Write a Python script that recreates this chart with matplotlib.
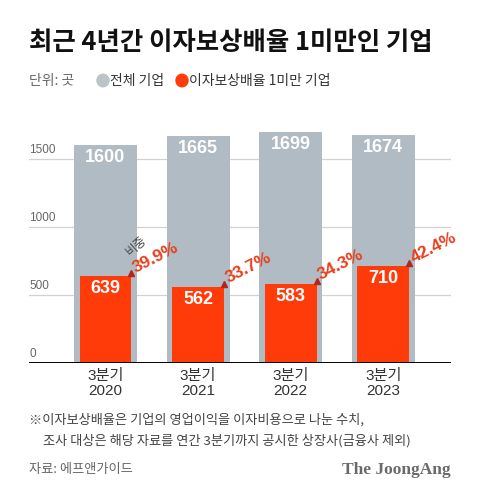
import matplotlib
matplotlib.use("Agg")
import matplotlib.pyplot as plt
import matplotlib.transforms as mtransforms

plt.rcParams["font.family"] = ["Noto Sans CJK KR", "DejaVu Sans"]
NUM_FONT = ["Liberation Sans", "Noto Sans CJK KR"]

# data
quarters = ["3분기\n2020", "3분기\n2021", "3분기\n2022", "3분기\n2023"]
total_firms = [1600, 1665, 1699, 1674]
low_icr_firms = [639, 562, 583, 710]
share_labels = ["39.9%", "33.7%", "34.3%", "42.4%"]
y_ticks = [0, 500, 1000, 1500]

GRAY = "#b0bbc3"
RED = "#ff3b0a"
PCT_RED = "#e8401c"

fig = plt.figure(figsize=(4.8, 5.01), dpi=100)
ax = fig.add_axes([29 / 480, 138 / 501, 422 / 480, 245 / 501])

x = list(range(len(quarters)))
gray_w, red_w = 0.68, 0.56

for t in y_ticks[1:]:
    ax.axhline(t, color="#d2d2d2", lw=0.9, zorder=0)
ax.axhline(0, color="black", lw=1.4, zorder=5)

ax.bar(x, total_firms, width=gray_w, color=GRAY, zorder=2)
ax.bar(x, low_icr_firms, width=red_w, color=RED, zorder=3)

for i in x:
    ax.text(i, total_firms[i] - 92, str(total_firms[i]), ha="center", va="center",
            color="white", fontsize=13, fontweight="bold", family=NUM_FONT, zorder=4)
    ax.text(i, low_icr_firms[i] - 92, str(low_icr_firms[i]), ha="center", va="center",
            color="white", fontsize=13, fontweight="bold", family=NUM_FONT, zorder=4)
    xr = i + red_w / 2
    ax.plot(xr, low_icr_firms[i] + 22, marker="^", ms=5, color="#b3261e", zorder=6,
            clip_on=False)
    ax.text(xr + 0.06, low_icr_firms[i] + 5, share_labels[i], ha="left", va="bottom",
            rotation=27, rotation_mode="anchor", color=PCT_RED, fontsize=12.5,
            fontweight="bold", family=NUM_FONT, zorder=6)

# "비중" tag above the first share label
ax.text(0.29, 765, "비중", ha="left", va="bottom", rotation=42, rotation_mode="anchor",
        color="#4a4a4a", fontsize=9, zorder=6)

# y labels sit above the gridlines, at the left edge
trans = mtransforms.blended_transform_factory(ax.transAxes, ax.transData)
for t in y_ticks:
    ax.text(0, t + 20, str(t), transform=trans, ha="left", va="bottom",
            color="#666666", fontsize=8.5, family=NUM_FONT)

ax.set_xlim(-0.826, 3.731)
ax.set_ylim(0, 1800)
ax.set_xticks(x)
ax.set_xticklabels(quarters, fontsize=11, color="#333333", linespacing=1.1,
                   family=NUM_FONT)
ax.tick_params(axis="x", length=0, pad=4)
ax.set_yticks([])
for s in ax.spines.values():
    s.set_visible(False)

# title and legend row
fig.text(29 / 480, 1 - 42 / 501, "최근 4년간 이자보상배율 1미만인 기업", fontsize=18.3,
         fontweight="heavy", va="center", ha="left", color="#111111")
fig.text(29 / 480, 1 - 81 / 501, "단위: 곳", fontsize=10, va="center", color="#666666")
fig.patches.append(matplotlib.patches.Circle((103 / 480, 1 - 80.5 / 501), 6 / 480,
                                             transform=fig.transFigure, color="#bcc3c9"))
fig.text(110 / 480, 1 - 81 / 501, "전체 기업", fontsize=10, va="center", color="#333333")
fig.patches.append(matplotlib.patches.Circle((182 / 480, 1 - 80.5 / 501), 6 / 480,
                                             transform=fig.transFigure, color=RED))
fig.text(189 / 480, 1 - 81 / 501, "이자보상배율 1미만 기업", fontsize=10, va="center",
         color="#333333")

# footnote and source
fig.text(29 / 480, 1 - 420 / 501, "※이자보상배율은 기업의 영업이익을 이자비용으로 나눈 수치,",
         fontsize=9.5, va="center", color="#444444")
fig.text(43 / 480, 1 - 441 / 501, "조사 대상은 해당 자료를 연간 3분기까지 공시한 상장사(금융사 제외)",
         fontsize=9.5, va="center", color="#444444")
fig.text(29 / 480, 1 - 470 / 501, "자료: 에프앤가이드", fontsize=9.5, va="center",
         color="#666666")
fig.text(451 / 480, 1 - 470 / 501, "The JoongAng", fontsize=12.5, va="center", ha="right",
         family="Liberation Serif", fontweight="bold", color="#6a6a6a")

fig.savefig("out.png", dpi=100, facecolor="white")
